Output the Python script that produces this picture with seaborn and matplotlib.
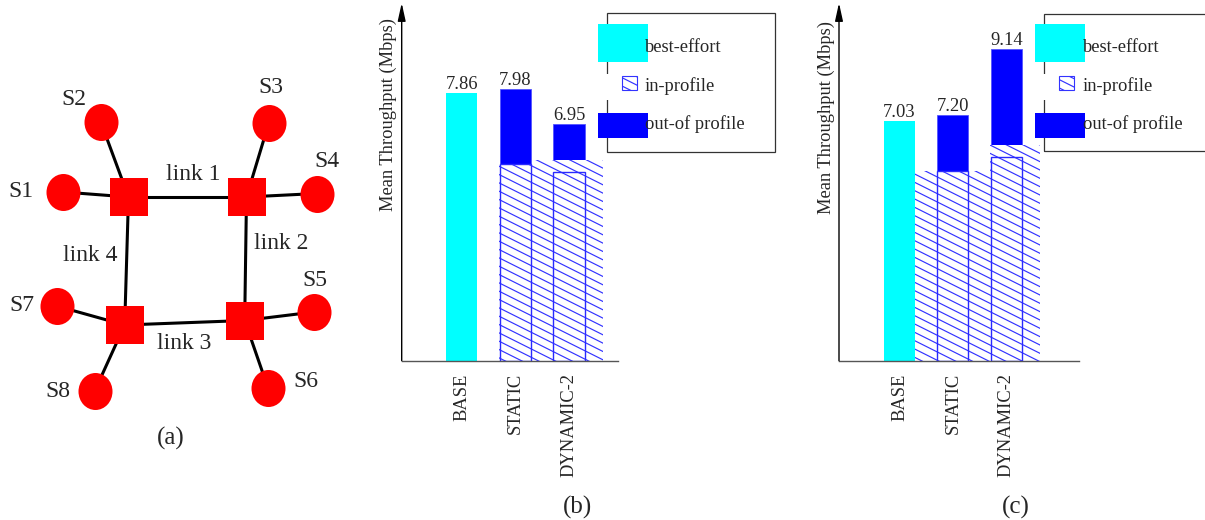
import numpy as np
import matplotlib
matplotlib.use("Agg")
import matplotlib.pyplot as plt
import matplotlib.hatch as mhatch
import seaborn as sns
from matplotlib.patches import Rectangle
from matplotlib.path import Path

# ---------------- data ----------------
categories = ["BASE", "STATIC", "DYNAMIC-2"]
series_names = ["best-effort", "in-profile", "out-of profile"]

# panel (b)
b_total = [7.86, 7.98, 6.95]
b_best_effort = [7.86, 0.0, 0.0]
b_in_profile = [0.0, 5.78, 5.90]
b_in_profile_box = [0.0, 5.78, 5.54]

# panel (c)
c_total = [7.03, 7.20, 9.14]
c_best_effort = [7.03, 0.0, 0.0]
c_in_profile = [0.0, 5.56, 6.33]
c_in_profile_box = [0.0, 5.56, 5.97]

# panel (a): network topology (drawing coordinates)
router_x = [128.5, 246.5, 244.7, 124.7]
router_y = [197.0, 197.0, 320.5, 325.0]
links = [(0, 1), (1, 2), (2, 3), (3, 0)]
link_labels = ["link 1", "link 2", "link 3", "link 4"]
link_label_x = [193, 281, 184, 90]
link_label_y = [180, 249, 349, 261]
host_labels = ["S1", "S2", "S3", "S4", "S5", "S6", "S7", "S8"]
host_x = [63.0, 100.8, 268.8, 317.0, 314.0, 268.0, 56.7, 94.7]
host_y = [192.0, 122.0, 123.0, 193.5, 312.0, 388.0, 306.0, 391.0]
host_router = [0, 0, 1, 1, 2, 2, 3, 3]
host_label_x = [21.0, 74.0, 270.5, 326.7, 315.0, 305.5, 21.7, 57.5]
host_label_y = [196.7, 105.0, 93.3, 166.7, 286.0, 387.0, 310.7, 397.3]

# ---------------- style ----------------
CYAN = "#00ffff"
BLUE = "#0000ff"
HATCH_C = "#3333ff"
BOX_C = "#2a2aff"
HATCH = "\\\\"
BAR_W = 0.58
FS = 13.3
YMAX = 10.5
b_hatch_shift = [0.0, 0.0, -0.035]
b_hatch_width = [0.0, 0.60, 1.32]
c_hatch_shift = [0.0, -0.03, 0.16]
c_hatch_width = [0.0, 1.44, 0.94]


class ShallowSouthEastHatch(mhatch.HatchPatternBase):
    """'\\' hatch drawn with a shallow (1:2) downward slope."""

    def __init__(self, hatch, density):
        self.num_lines = 6 * hatch.count("\\")
        if self.num_lines:
            self.num_lines += self.num_lines % 2
            self.n_paths = int(1.5 * self.num_lines) + 1
            self.num_vertices = self.n_paths * 2
        else:
            self.num_vertices = 0

    def set_vertices_and_codes(self, vertices, codes):
        c = np.arange(self.n_paths) / self.num_lines
        vertices[0::2, 0] = 0.0
        vertices[0::2, 1] = c
        vertices[1::2, 0] = 1.0
        vertices[1::2, 1] = c - 0.5
        codes[0::2] = Path.MOVETO
        codes[1::2] = Path.LINETO


mhatch._hatch_types[mhatch._hatch_types.index(mhatch.SouthEastHatch)] = ShallowSouthEastHatch

sns.set_theme(style="white")
plt.rcParams["font.family"] = ["Liberation Serif", "DejaVu Serif"]
plt.rcParams["hatch.linewidth"] = 0.85

W, H = 1205, 520
fig = plt.figure(figsize=(W / 100, H / 100), dpi=100)


def fx(px):
    return px / W


def fy(py):
    return 1 - py / H


def add_ax(l, t, r, b):
    return fig.add_axes([l / W, 1 - b / H, (r - l) / W, (b - t) / H])


def frect(l, t, r, b, **kw):
    p = Rectangle((fx(l), fy(b)), (r - l) / W, (b - t) / H,
                  transform=fig.transFigure, **kw)
    fig.add_artist(p)
    return p


# ---------------- panel (a) ----------------
ax_a = add_ax(0, 0, 360, 520)
for i, j in links:
    ax_a.plot([router_x[i], router_x[j]], [router_y[i], router_y[j]],
              color="black", lw=2.2, zorder=1, solid_capstyle="butt")
for h, r in enumerate(host_router):
    ax_a.plot([host_x[h], router_x[r]], [host_y[h], router_y[r]],
              color="black", lw=2.2, zorder=1, solid_capstyle="butt")

circ = Path.unit_circle()
ellipse = Path(circ.vertices * np.array([34 / 37, 1.0]), circ.codes)
sns.scatterplot(x=router_x, y=router_y, marker="s", s=710, color="red",
                linewidth=0, ax=ax_a, zorder=3)
sns.scatterplot(x=host_x, y=host_y, marker=ellipse, s=710, color="red",
                linewidth=0, ax=ax_a, zorder=3)
for t, x, y in zip(host_labels, host_label_x, host_label_y):
    ax_a.text(x, y, t, ha="center", va="baseline", fontsize=17)
for t, x, y in zip(link_labels, link_label_x, link_label_y):
    ax_a.text(x, y, t, ha="center", va="baseline", fontsize=17)
ax_a.set_xlim(0, 360)
ax_a.set_ylim(520, 0)
ax_a.axis("off")


# ---------------- panels (b), (c) ----------------
def draw_panel(ax, total, best, inprof, inbox, shift, hwidth, xlim, ylab_xy):
    pos = np.arange(len(categories), dtype=float)
    total = np.asarray(total)
    best = np.asarray(best)
    inprof = np.asarray(inprof)
    inbox = np.asarray(inbox)
    prof = inprof > 0
    # out-of-profile on top of in-profile (full stack drawn, lower part covered)
    sns.barplot(x=pos[prof], y=total[prof], native_scale=True, width=BAR_W,
                color=BLUE, edgecolor="#5555ff", saturation=1, linewidth=0.6,
                errorbar=None, ax=ax)
    for i in np.flatnonzero(prof):
        sns.barplot(x=[pos[i] + shift[i]], y=[inprof[i]], native_scale=True,
                    width=hwidth[i], color="white", edgecolor=HATCH_C,
                    hatch=HATCH, linewidth=0, saturation=1, errorbar=None, ax=ax)
    be = best > 0
    sns.barplot(x=pos[be], y=best[be], native_scale=True, width=BAR_W,
                color=CYAN, saturation=1, linewidth=0, errorbar=None, ax=ax)
    sns.barplot(x=pos[prof], y=inbox[prof], native_scale=True, width=BAR_W,
                fill=False, color=BOX_C, linewidth=1.0, errorbar=None, ax=ax)
    for x, v in zip(pos, total):
        ax.annotate(f"{v:.2f}", xy=(x, v), xytext=(0, 3),
                    textcoords="offset points", ha="center", va="baseline",
                    fontsize=FS)
    ax.set_xlim(*xlim)
    ax.set_ylim(0, YMAX)
    ax.set_xticks(pos)
    ax.set_xticklabels(categories, rotation=90, fontsize=FS)
    ax.set_yticks([])
    ax.tick_params(axis="x", length=0, pad=9)
    for s in ["top", "right", "left"]:
        ax.spines[s].set_visible(False)
    ax.spines["bottom"].set_color("#555555")
    ax.spines["bottom"].set_linewidth(1.0)
    ax.set_xlabel("")
    ax.set_ylabel("Mean Throughput (Mbps)", fontsize=FS)
    ax.yaxis.set_label_coords(*ylab_xy)
    ax.yaxis.label.set_va("center")
    ax.yaxis.label.set_rotation_mode("default")
    ax.annotate("", xy=(0, 1), xytext=(0, 0), xycoords="axes fraction",
                arrowprops=dict(arrowstyle="-|>,head_length=1.0,head_width=0.22",
                                color="black", lw=1.0, mutation_scale=10.8,
                                shrinkA=0, shrinkB=0))


def draw_legend(box_l, box_t, box_r, box_b, patch_l, text_x):
    frect(box_l, box_t, box_r, box_b, facecolor="none", edgecolor="#333333",
          lw=0.9, zorder=5)
    frect(patch_l, 74, patch_l + 50, 100, facecolor="white", lw=0, zorder=6)
    frect(patch_l, 24, patch_l + 50, 62, facecolor=CYAN, lw=0, zorder=7)
    frect(patch_l + 24, 75.5, patch_l + 39, 90, facecolor="white",
          edgecolor=HATCH_C, hatch=HATCH, lw=0.8, zorder=7)
    frect(patch_l, 113, patch_l + 50, 137.7, facecolor=BLUE, lw=0, zorder=7)
    for name, yb in zip(series_names, [51.7, 91.0, 129.0]):
        fig.text(fx(text_x), fy(yb), name, ha="left", va="baseline",
                 fontsize=FS, zorder=8)


ax_b = add_ax(401.7, 3, 618, 360.7)
draw_panel(ax_b, b_total, b_best_effort, b_in_profile, b_in_profile_box,
           b_hatch_shift, b_hatch_width, (-1.118, 2.913), (-0.063, 0.687))
draw_legend(607, 13.3, 775, 151.7, 598, 645)

ax_c = add_ax(839, 3, 1079, 360.7)
draw_panel(ax_c, c_total, c_best_effort, c_in_profile, c_in_profile_box,
           c_hatch_shift, c_hatch_width, (-1.132, 3.358), (-0.052, 0.681))
draw_legend(1044.3, 13.7, 1215, 151, 1035, 1083)

# captions
fig.text(fx(171), fy(445), "(a)", ha="center", va="baseline", fontsize=18)
fig.text(fx(578), fy(513.5), "(b)", ha="center", va="baseline", fontsize=18)
fig.text(fx(1016), fy(513.5), "(c)", ha="center", va="baseline", fontsize=18)

fig.savefig("out.png", dpi=100)
